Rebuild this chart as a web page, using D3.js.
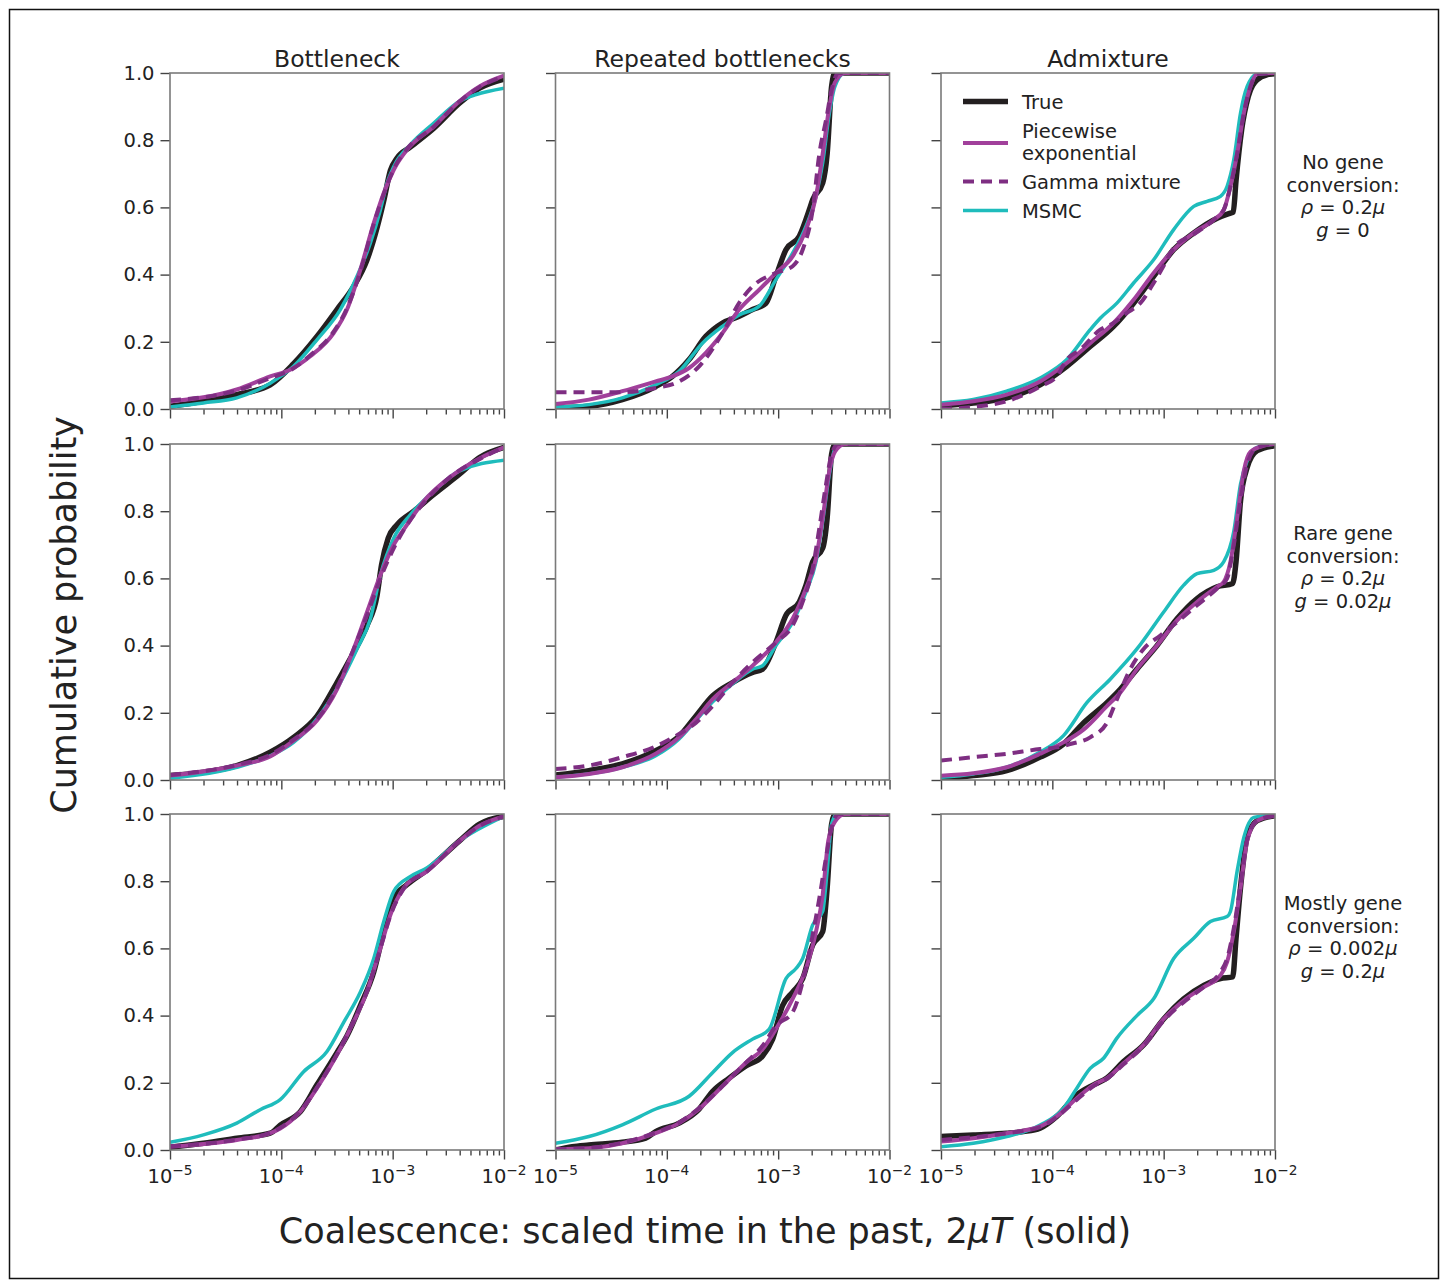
<!DOCTYPE html>
<html>
<head>
<meta charset="utf-8">
<script src="https://cdn.jsdelivr.net/npm/d3@7"></script>
<style>
  body { margin: 0; background: #fff; }
  svg { display: block; }
  text { font-family: "DejaVu Sans", sans-serif; fill: #222; }
</style>
</head>
<body>
<svg id="chart" width="1447" height="1286"></svg>
<script>
// ---- labels ---------------------------------------------------------------
const scenarios = ["Bottleneck", "Repeated bottlenecks", "Admixture"];
// '*' toggles italic (math symbols)
const conditionLabels = [
  ["No gene", "conversion:", "*ρ* = 0.2*μ*", "*g* = 0"],
  ["Rare gene", "conversion:", "*ρ* = 0.2*μ*", "*g* = 0.02*μ*"],
  ["Mostly gene", "conversion:", "*ρ* = 0.002*μ*", "*g* = 0.2*μ*"]
];
const methods = ["True", "Piecewise exponential", "Gamma mixture", "MSMC"];
const yTicks = [0, 0.2, 0.4, 0.6, 0.8, 1.0];
const xTickExponents = [-5, -4, -3, -2];

// ---- cumulative distributions: [log10(2μT), F] ----------------------------
// Bottleneck, no gene conversion
const bnNoneTrue = [[-5,0.008],[-4.7,0.023],[-4.4,0.043],[-4.1,0.072],[-3.89,0.135],[-3.68,0.216],[-3.5,0.296],[-3.35,0.365],[-3.23,0.444],[-3.14,0.54],[-3.08,0.62],[-3.02,0.71],[-2.96,0.747],[-2.84,0.78],[-2.63,0.836],[-2.4,0.91],[-2.22,0.955],[-2,0.982]];
const bnNonePiece = [[-5,0.022],[-4.4,0.058],[-4.1,0.097],[-3.92,0.117],[-3.74,0.157],[-3.53,0.226],[-3.41,0.296],[-3.29,0.415],[-3.17,0.553],[-3.08,0.643],[-2.99,0.712],[-2.87,0.772],[-2.63,0.841],[-2.4,0.916],[-2.22,0.96],[-2,0.992]];
const bnNoneGamma = [[-5,0.026],[-4.7,0.035],[-4.4,0.055],[-4.1,0.092],[-3.92,0.115],[-3.74,0.16],[-3.53,0.23],[-3.41,0.3],[-3.29,0.41],[-3.17,0.55],[-3.08,0.64],[-2.99,0.715],[-2.87,0.775],[-2.63,0.84],[-2.4,0.915],[-2.22,0.958],[-2,0.99]];
const bnNoneMsmc = [[-5,0.006],[-4.7,0.018],[-4.4,0.033],[-4.1,0.077],[-3.89,0.127],[-3.68,0.206],[-3.47,0.296],[-3.32,0.395],[-3.2,0.494],[-3.11,0.593],[-3.05,0.673],[-2.99,0.722],[-2.84,0.787],[-2.63,0.851],[-2.4,0.916],[-2.25,0.936],[-2,0.955]];
// Bottleneck, rare gene conversion
const bnRareTrue = [[-5,0.013],[-4.7,0.023],[-4.4,0.043],[-4.1,0.083],[-3.89,0.127],[-3.68,0.19],[-3.5,0.29],[-3.35,0.38],[-3.23,0.46],[-3.14,0.55],[-3.1,0.64],[-3.04,0.72],[-2.96,0.76],[-2.81,0.8],[-2.63,0.85],[-2.4,0.91],[-2.22,0.96],[-2,0.99]];
const bnRarePiece = [[-5,0.013],[-4.4,0.043],[-4.1,0.07],[-3.89,0.117],[-3.68,0.177],[-3.5,0.27],[-3.35,0.39],[-3.23,0.5],[-3.11,0.61],[-2.99,0.7],[-2.87,0.76],[-2.72,0.83],[-2.49,0.9],[-2.22,0.957],[-2,0.99]];
const bnRareGamma = [[-5,0.015],[-4.4,0.045],[-4.1,0.075],[-3.89,0.12],[-3.68,0.18],[-3.5,0.275],[-3.35,0.39],[-3.23,0.49],[-3.11,0.6],[-2.99,0.69],[-2.87,0.76],[-2.72,0.825],[-2.49,0.9],[-2.22,0.955],[-2,0.99]];
const bnRareMsmc = [[-5,0.005],[-4.4,0.038],[-4.1,0.072],[-3.89,0.112],[-3.68,0.182],[-3.47,0.29],[-3.32,0.39],[-3.2,0.48],[-3.11,0.61],[-2.99,0.72],[-2.84,0.79],[-2.63,0.86],[-2.4,0.92],[-2,0.952]];
// Bottleneck, mostly gene conversion
const bnMostTrue = [[-5,0.008],[-4.7,0.02],[-4.4,0.035],[-4.1,0.05],[-4.01,0.074],[-3.83,0.114],[-3.68,0.194],[-3.5,0.29],[-3.41,0.34],[-3.29,0.43],[-3.17,0.53],[-3.08,0.65],[-2.99,0.75],[-2.87,0.79],[-2.69,0.834],[-2.4,0.92],[-2.22,0.97],[-2,0.993]];
const bnMostPiece = [[-5,0.01],[-4.4,0.03],[-4.1,0.05],[-4.01,0.064],[-3.83,0.114],[-3.68,0.184],[-3.5,0.283],[-3.35,0.382],[-3.23,0.472],[-3.11,0.601],[-3.02,0.7],[-2.9,0.78],[-2.69,0.83],[-2.4,0.92],[-2.22,0.965],[-2,0.993]];
const bnMostGamma = [[-5,0.011],[-4.4,0.031],[-4.1,0.051],[-4.01,0.066],[-3.83,0.116],[-3.68,0.186],[-3.5,0.285],[-3.35,0.384],[-3.23,0.474],[-3.11,0.6],[-3.02,0.698],[-2.9,0.778],[-2.69,0.83],[-2.4,0.919],[-2.22,0.964],[-2,0.993]];
const bnMostMsmc = [[-5,0.023],[-4.7,0.045],[-4.4,0.08],[-4.19,0.12],[-4.01,0.15],[-3.8,0.233],[-3.59,0.293],[-3.44,0.38],[-3.29,0.47],[-3.17,0.57],[-3.08,0.68],[-2.99,0.77],[-2.84,0.814],[-2.69,0.84],[-2.4,0.92],[-2,0.993]];
// Repeated bottlenecks, no gene conversion
const rbNoneTrue = [[-5,0.003],[-4.7,0.008],[-4.4,0.028],[-4.1,0.067],[-3.95,0.097],[-3.8,0.147],[-3.65,0.216],[-3.5,0.256],[-3.35,0.276],[-3.23,0.296],[-3.11,0.315],[-3.02,0.395],[-2.93,0.474],[-2.81,0.514],[-2.72,0.593],[-2.69,0.623],[-2.6,0.673],[-2.56,0.76],[-2.52,0.96],[-2.49,1],[-2,1]];
const rbNonePiece = [[-5,0.015],[-4.7,0.028],[-4.4,0.053],[-4.1,0.082],[-3.95,0.097],[-3.8,0.122],[-3.65,0.167],[-3.5,0.226],[-3.35,0.296],[-3.17,0.355],[-3.02,0.405],[-2.87,0.454],[-2.75,0.534],[-2.66,0.633],[-2.6,0.76],[-2.54,0.9],[-2.49,0.972],[-2.4,1],[-2,1]];
const rbNoneGamma = [[-5,0.05],[-4.4,0.05],[-4.1,0.0625],[-3.89,0.082],[-3.71,0.127],[-3.5,0.226],[-3.35,0.316],[-3.23,0.365],[-3.02,0.405],[-2.87,0.425],[-2.78,0.474],[-2.69,0.593],[-2.63,0.76],[-2.57,0.86],[-2.52,0.95],[-2.46,1],[-2,1]];
const rbNoneMsmc = [[-5,0.006],[-4.7,0.013],[-4.4,0.033],[-4.1,0.072],[-3.89,0.112],[-3.68,0.196],[-3.5,0.246],[-3.35,0.28],[-3.17,0.306],[-3.02,0.385],[-2.87,0.464],[-2.75,0.544],[-2.66,0.633],[-2.6,0.733],[-2.54,0.88],[-2.49,0.96],[-2.4,1],[-2,1]];
// Repeated bottlenecks, rare gene conversion
const rbRareTrue = [[-5,0.015],[-4.7,0.028],[-4.4,0.048],[-4.1,0.087],[-3.89,0.13],[-3.74,0.19],[-3.59,0.25],[-3.41,0.29],[-3.23,0.32],[-3.14,0.33],[-3.02,0.41],[-2.93,0.49],[-2.81,0.53],[-2.75,0.58],[-2.69,0.65],[-2.6,0.69],[-2.56,0.78],[-2.52,0.97],[-2.49,1],[-2,1]];
const rbRarePiece = [[-5,0.008],[-4.7,0.018],[-4.4,0.038],[-4.1,0.078],[-3.89,0.127],[-3.74,0.18],[-3.59,0.24],[-3.41,0.29],[-3.23,0.34],[-3.02,0.41],[-2.87,0.48],[-2.75,0.57],[-2.66,0.66],[-2.6,0.78],[-2.54,0.92],[-2.49,0.977],[-2.4,1],[-2,1]];
const rbRareGamma = [[-5,0.033],[-4.7,0.043],[-4.4,0.068],[-4.1,0.1],[-3.89,0.137],[-3.74,0.17],[-3.59,0.22],[-3.41,0.29],[-3.23,0.35],[-3.02,0.41],[-2.87,0.46],[-2.78,0.53],[-2.69,0.63],[-2.63,0.75],[-2.57,0.88],[-2.52,0.97],[-2.46,1],[-2,1]];
const rbRareMsmc = [[-5,0.008],[-4.4,0.038],[-4.1,0.072],[-3.89,0.122],[-3.74,0.177],[-3.59,0.232],[-3.41,0.286],[-3.23,0.33],[-3.14,0.34],[-3.02,0.4],[-2.87,0.47],[-2.75,0.56],[-2.66,0.65],[-2.6,0.77],[-2.54,0.91],[-2.49,0.985],[-2.4,1],[-2,1]];
// Repeated bottlenecks, mostly gene conversion
const rbMostTrue = [[-5,0.0],[-4.85,0.01],[-4.7,0.015],[-4.4,0.023],[-4.19,0.035],[-4.1,0.055],[-3.89,0.08],[-3.71,0.122],[-3.59,0.174],[-3.44,0.214],[-3.29,0.25],[-3.14,0.28],[-3.05,0.33],[-2.96,0.43],[-2.87,0.47],[-2.78,0.51],[-2.69,0.61],[-2.6,0.65],[-2.56,0.78],[-2.52,0.97],[-2.49,1],[-2,1]];
const rbMostPiece = [[-5,0.002],[-4.7,0.005],[-4.4,0.02],[-4.1,0.05],[-3.89,0.08],[-3.71,0.122],[-3.5,0.19],[-3.29,0.26],[-3.14,0.3],[-3.02,0.36],[-2.87,0.45],[-2.75,0.54],[-2.66,0.65],[-2.6,0.76],[-2.55,0.92],[-2.49,0.977],[-2.4,1],[-2,1]];
const rbMostGamma = [[-5,0.002],[-4.7,0.006],[-4.4,0.022],[-4.1,0.052],[-3.89,0.082],[-3.71,0.125],[-3.5,0.19],[-3.29,0.26],[-3.14,0.31],[-3.02,0.37],[-2.87,0.41],[-2.78,0.5],[-2.69,0.64],[-2.63,0.75],[-2.57,0.87],[-2.52,0.96],[-2.46,1],[-2,1]];
const rbMostMsmc = [[-5,0.02],[-4.7,0.04],[-4.4,0.075],[-4.1,0.122],[-3.8,0.16],[-3.59,0.23],[-3.41,0.29],[-3.23,0.33],[-3.08,0.36],[-2.93,0.51],[-2.84,0.54],[-2.78,0.57],[-2.69,0.67],[-2.6,0.71],[-2.56,0.83],[-2.52,0.97],[-2.47,1],[-2,1]];
// Admixture, no gene conversion
const adNoneTrue = [[-5,0.01],[-4.71,0.018],[-4.41,0.033],[-4.11,0.072],[-3.87,0.127],[-3.66,0.186],[-3.45,0.246],[-3.27,0.315],[-3.09,0.395],[-2.91,0.474],[-2.73,0.524],[-2.52,0.568],[-2.4,0.583],[-2.375,0.586],[-2.35,0.68],[-2.3,0.83],[-2.24,0.93],[-2.16,0.98],[-2.07,0.995],[-2,0.998]];
const adNonePiece = [[-5,0.013],[-4.71,0.023],[-4.41,0.043],[-4.11,0.082],[-3.87,0.137],[-3.66,0.196],[-3.45,0.256],[-3.27,0.325],[-3.09,0.405],[-2.91,0.474],[-2.73,0.524],[-2.55,0.563],[-2.46,0.593],[-2.4,0.663],[-2.34,0.76],[-2.28,0.88],[-2.22,0.96],[-2.16,0.997],[-2,1]];
const adNoneGamma = [[-5,0.0],[-4.71,0.006],[-4.41,0.023],[-4.11,0.067],[-3.96,0.097],[-3.87,0.147],[-3.75,0.177],[-3.57,0.236],[-3.45,0.256],[-3.33,0.286],[-3.21,0.315],[-3.09,0.375],[-2.97,0.444],[-2.91,0.48],[-2.73,0.52],[-2.55,0.563],[-2.46,0.593],[-2.4,0.663],[-2.34,0.76],[-2.28,0.88],[-2.22,0.96],[-2.16,0.997],[-2,1]];
const adNoneMsmc = [[-5,0.018],[-4.71,0.028],[-4.41,0.053],[-4.11,0.092],[-3.87,0.147],[-3.66,0.236],[-3.57,0.27],[-3.42,0.315],[-3.27,0.375],[-3.09,0.444],[-2.91,0.534],[-2.73,0.603],[-2.61,0.618],[-2.49,0.633],[-2.43,0.663],[-2.37,0.742],[-2.31,0.88],[-2.25,0.96],[-2.16,0.997],[-2,1]];
// Admixture, rare gene conversion
const adRareTrue = [[-5,0.003],[-4.71,0.013],[-4.41,0.028],[-4.11,0.068],[-3.9,0.107],[-3.72,0.17],[-3.51,0.23],[-3.39,0.27],[-3.24,0.33],[-3.06,0.4],[-2.88,0.48],[-2.7,0.54],[-2.52,0.575],[-2.38,0.585],[-2.35,0.65],[-2.31,0.83],[-2.25,0.93],[-2.16,0.98],[-2,0.995]];
const adRarePiece = [[-5,0.013],[-4.71,0.02],[-4.41,0.038],[-4.11,0.078],[-3.9,0.112],[-3.72,0.15],[-3.51,0.22],[-3.39,0.26],[-3.24,0.33],[-3.06,0.4],[-2.88,0.475],[-2.7,0.53],[-2.52,0.575],[-2.46,0.59],[-2.4,0.65],[-2.34,0.78],[-2.28,0.92],[-2.22,0.977],[-2.1,0.995],[-2,1]];
const adRareGamma = [[-5,0.058],[-4.71,0.068],[-4.41,0.078],[-4.11,0.092],[-3.96,0.097],[-3.84,0.107],[-3.66,0.127],[-3.51,0.17],[-3.42,0.24],[-3.3,0.33],[-3.18,0.39],[-3.03,0.43],[-2.88,0.47],[-2.7,0.52],[-2.52,0.57],[-2.43,0.6],[-2.37,0.7],[-2.31,0.83],[-2.25,0.94],[-2.16,0.99],[-2,1]];
const adRareMsmc = [[-5,0.008],[-4.71,0.018],[-4.41,0.038],[-4.11,0.083],[-3.9,0.132],[-3.69,0.23],[-3.48,0.3],[-3.24,0.39],[-3.0,0.5],[-2.82,0.58],[-2.7,0.614],[-2.55,0.624],[-2.46,0.65],[-2.37,0.74],[-2.31,0.88],[-2.25,0.95],[-2.16,0.99],[-2,1]];
// Admixture, mostly gene conversion
const adMostTrue = [[-5,0.04],[-4.71,0.045],[-4.41,0.05],[-4.26,0.055],[-4.11,0.065],[-3.96,0.1],[-3.78,0.164],[-3.63,0.194],[-3.51,0.214],[-3.36,0.263],[-3.18,0.313],[-3.0,0.39],[-2.82,0.45],[-2.64,0.49],[-2.49,0.51],[-2.38,0.515],[-2.35,0.63],[-2.31,0.78],[-2.25,0.93],[-2.16,0.98],[-2,0.995]];
const adMostPiece = [[-5,0.025],[-4.71,0.035],[-4.41,0.05],[-4.11,0.07],[-3.96,0.1],[-3.78,0.154],[-3.63,0.194],[-3.51,0.214],[-3.36,0.258],[-3.18,0.313],[-3.0,0.39],[-2.82,0.445],[-2.64,0.485],[-2.49,0.52],[-2.43,0.56],[-2.37,0.65],[-2.31,0.78],[-2.25,0.92],[-2.16,0.98],[-2,0.995]];
const adMostGamma = [[-5,0.03],[-4.71,0.038],[-4.41,0.05],[-4.11,0.068],[-3.96,0.098],[-3.78,0.15],[-3.63,0.19],[-3.51,0.212],[-3.36,0.255],[-3.18,0.31],[-3.0,0.385],[-2.82,0.44],[-2.64,0.485],[-2.49,0.53],[-2.43,0.57],[-2.37,0.66],[-2.31,0.79],[-2.25,0.925],[-2.16,0.98],[-2,0.995]];
const adMostMsmc = [[-5,0.01],[-4.71,0.02],[-4.41,0.04],[-4.11,0.074],[-3.9,0.124],[-3.78,0.184],[-3.66,0.243],[-3.54,0.273],[-3.42,0.333],[-3.24,0.4],[-3.09,0.45],[-2.91,0.57],[-2.73,0.63],[-2.58,0.68],[-2.43,0.695],[-2.4,0.71],[-2.34,0.83],[-2.28,0.93],[-2.19,0.99],[-2,0.997]];

// grid of panels: rows = gene-conversion regime, columns = scenario
const panelSeries = [
  [[bnNoneTrue, bnNonePiece, bnNoneGamma, bnNoneMsmc],
   [rbNoneTrue, rbNonePiece, rbNoneGamma, rbNoneMsmc],
   [adNoneTrue, adNonePiece, adNoneGamma, adNoneMsmc]],
  [[bnRareTrue, bnRarePiece, bnRareGamma, bnRareMsmc],
   [rbRareTrue, rbRarePiece, rbRareGamma, rbRareMsmc],
   [adRareTrue, adRarePiece, adRareGamma, adRareMsmc]],
  [[bnMostTrue, bnMostPiece, bnMostGamma, bnMostMsmc],
   [rbMostTrue, rbMostPiece, rbMostGamma, rbMostMsmc],
   [adMostTrue, adMostPiece, adMostGamma, adMostMsmc]]
];

// ---- styling / layout -------------------------------------------------------
const styles = [
  { color: "#231f20", width: 5.5, dash: null },       // True
  { color: "#a1409b", width: 4,   dash: null },       // Piecewise exponential
  { color: "#7e2e82", width: 4,   dash: "11,7" },     // Gamma mixture
  { color: "#1fbcbc", width: 3.5, dash: null }        // MSMC
];
const drawOrder = [0, 3, 1, 2];

const colLeft = [170, 555.5, 941];
const rowTop = [73, 444, 814];
const panelW = 334, panelH = 336;
const fontTick = 19.5, fontTitle = 23.5, fontLabel = 35;

const svg = d3.select("#chart");

// outer frame
svg.append("rect").attr("x", 9.5).attr("y", 9.5).attr("width", 1429).attr("height", 1269)
  .attr("fill", "none").attr("stroke", "#111").attr("stroke-width", 1.5);

const x = d3.scaleLog().domain([1e-5, 1e-2]).range([0, panelW]);
const y = d3.scaleLinear().domain([0, 1]).range([panelH, 0]);
const majorX = xTickExponents.map(e => Math.pow(10, e));
const minorX = x.ticks().filter(t => !majorX.some(m => Math.abs(m - t) / m < 1e-9));

const line = d3.line()
  .x(d => x(Math.pow(10, d[0])))
  .y(d => y(d[1]))
  .curve(d3.curveMonotoneX);

const defs = svg.append("defs");
defs.append("clipPath").attr("id", "panel-clip")
  .append("rect").attr("x", 0).attr("y", 0).attr("width", panelW).attr("height", panelH);

// writes text containing '*'-delimited italic parts as tspans
function richText(sel, str) {
  str.split("*").forEach((part, i) => {
    if (!part) return;
    sel.append("tspan").attr("font-style", i % 2 ? "italic" : "normal").text(part);
  });
}

for (let r = 0; r < 3; r++) {
  for (let c = 0; c < 3; c++) {
    const g = svg.append("g").attr("transform", `translate(${colLeft[c]},${rowTop[r]})`);

    // curves
    const plot = g.append("g").attr("clip-path", "url(#panel-clip)");
    drawOrder.forEach(k => {
      const s = styles[k];
      plot.append("path")
        .datum(panelSeries[r][c][k])
        .attr("d", line)
        .attr("fill", "none")
        .attr("stroke", s.color)
        .attr("stroke-width", s.width)
        .attr("stroke-linejoin", "round")
        .attr("stroke-dasharray", s.dash);
    });

    // y axis
    const yAxis = g.append("g").call(
      d3.axisLeft(y).tickValues(yTicks).tickSize(9.5).tickPadding(6)
        .tickFormat(c === 0 ? d3.format(".1f") : () => ""));
    // x axis: minor + major ticks
    const xMinor = g.append("g").attr("transform", `translate(0,${panelH})`)
      .call(d3.axisBottom(x).tickValues(minorX).tickSize(5.5).tickFormat(() => ""));
    const xMajor = g.append("g").attr("transform", `translate(0,${panelH})`)
      .call(d3.axisBottom(x).tickValues(majorX).tickSize(9.5).tickFormat(() => ""));

    [yAxis, xMinor, xMajor].forEach(a => {
      a.select(".domain").remove();
      a.selectAll(".tick line").attr("stroke", "#444").attr("stroke-width", 1.4);
      a.selectAll(".tick text").attr("font-size", fontTick).attr("fill", "#222")
        .style("font-family", '"DejaVu Sans", sans-serif');
    });

    // x tick labels with superscript exponents (bottom row only)
    if (r === 2) {
      xTickExponents.forEach(e => {
        const t = g.append("text")
          .attr("x", x(Math.pow(10, e)))
          .attr("y", panelH + 33)
          .attr("text-anchor", "middle")
          .attr("font-size", fontTick);
        t.append("tspan").text("10");
        t.append("tspan").attr("font-size", 13.7).attr("dy", -8.5).text("\u2212" + Math.abs(e));
      });
    }

    // frame
    g.append("rect").attr("x", 0).attr("y", 0).attr("width", panelW).attr("height", panelH)
      .attr("fill", "none").attr("stroke", "#7a7a7a").attr("stroke-width", 1.6);
  }
}

// column titles
scenarios.forEach((name, c) => {
  svg.append("text")
    .attr("x", colLeft[c] + panelW / 2).attr("y", 67)
    .attr("text-anchor", "middle").attr("font-size", fontTitle)
    .text(name);
});

// row annotations
conditionLabels.forEach((lines, r) => {
  lines.forEach((ln, i) => {
    const t = svg.append("text")
      .attr("x", 1343).attr("y", rowTop[r] + 89 + i * 22.6)
      .attr("dy", "0.36em")
      .attr("text-anchor", "middle").attr("font-size", fontTick);
    richText(t, ln);
  });
});

// legend (top-right panel)
const legend = svg.append("g").attr("transform", `translate(${colLeft[2]},${rowTop[0]})`);
const legendRows = [
  { k: 0, lineY: 28.5, text: [["True", 28.5]] },
  { k: 1, lineY: 70, text: [["Piecewise", 58], ["exponential", 80]] },
  { k: 2, lineY: 108.5, text: [[methods[2], 108.5]] },
  { k: 3, lineY: 137.5, text: [[methods[3], 137.5]] }
];
legendRows.forEach(row => {
  const s = styles[row.k];
  legend.append("line")
    .attr("x1", 22).attr("x2", 67).attr("y1", row.lineY).attr("y2", row.lineY)
    .attr("stroke", s.color).attr("stroke-width", s.width).attr("stroke-dasharray", s.dash);
  row.text.forEach(([txt, ty]) => {
    legend.append("text").attr("x", 81).attr("y", ty).attr("dy", "0.36em")
      .attr("font-size", fontTick).text(txt);
  });
});

// axis labels
svg.append("text")
  .attr("transform", "translate(76,615) rotate(-90)")
  .attr("text-anchor", "middle").attr("font-size", fontLabel)
  .text("Cumulative probability");

const xl = svg.append("text")
  .attr("x", 705).attr("y", 1243)
  .attr("text-anchor", "middle").attr("font-size", fontLabel);
richText(xl, "Coalescence: scaled time in the past, 2*μT* (solid)");
</script>
</body>
</html>
